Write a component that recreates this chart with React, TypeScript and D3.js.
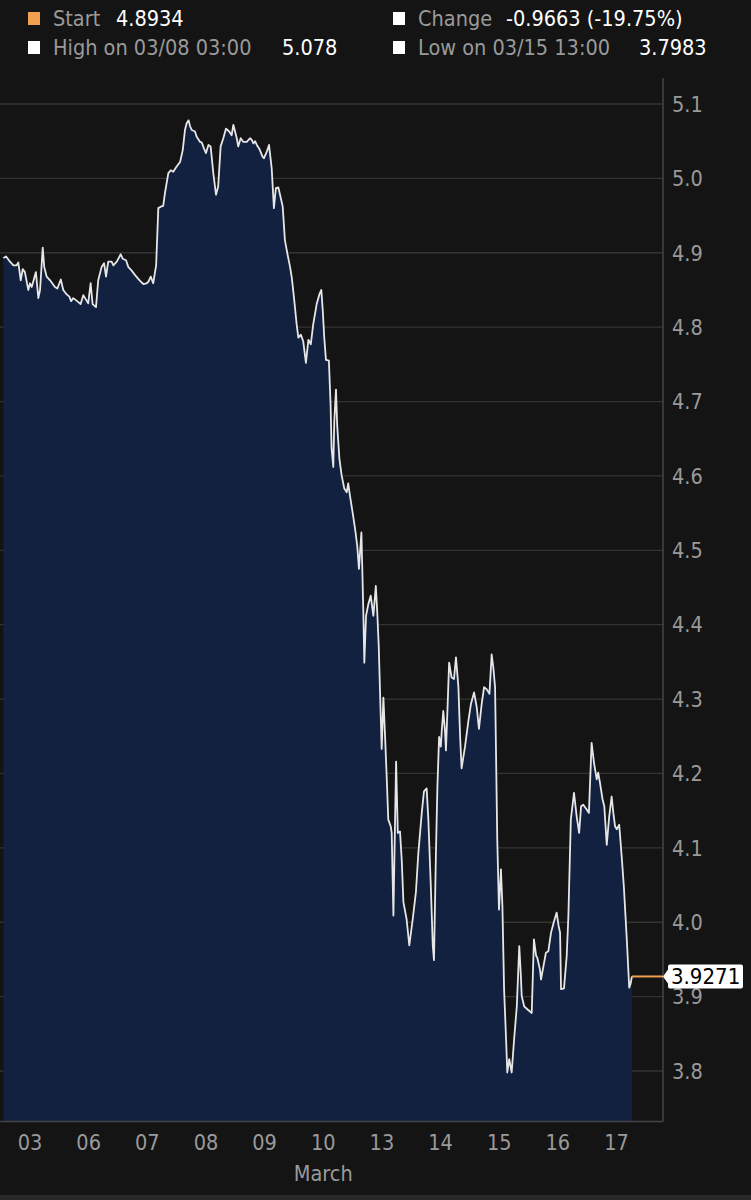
import React from "react";
import * as d3 from "d3";

// Trading-hour offsets (weekends removed) from 03/03 00:00, and yield values
const hours: number[] = [
  1.1, 2.2, 3.8, 5.2, 6.5, 7.2, 8.2, 9.0, 9.9, 11.3, 12.0, 12.7, 13.3, 14.4, 15.4, 16.1, 17.2, 17.8, 18.8, 20.2,
  22.2, 23.2, 24.6, 25.6, 27.0, 28.1, 28.8, 29.7, 31.3, 32.7, 33.8, 34.9, 35.8, 36.8, 37.6, 39.0, 39.9, 41.3, 42.3, 43.1,
  44.0, 45.4, 46.1, 47.5, 49.1, 49.9, 51.3, 52.2, 53.6, 55.0, 56.3, 57.7, 58.4, 59.7, 60.4, 61.4, 62.4, 63.6, 64.5, 65.5,
  66.5, 67.2, 68.6, 69.6, 70.6, 72.0, 73.4, 74.5, 75.4, 76.1, 76.9, 77.5, 78.2, 79.5, 80.2, 81.6, 82.3, 83.2, 84.0, 85.0,
  85.9, 87.0, 88.1, 89.0, 90.0, 91.1, 92.2, 93.5, 94.5, 95.2, 95.9, 96.6, 97.2, 98.2, 99.3, 100.7, 102.0, 102.7, 103.4, 104.1,
  104.8, 105.8, 107.2, 107.7, 108.9, 109.8, 110.9, 111.8, 112.6, 113.6, 114.3, 115.4, 116.3, 117.3, 118.4, 119.1, 120.0, 121.1, 121.8, 122.8,
  123.8, 124.9, 125.9, 126.9, 127.9, 129.3, 130.4, 131.2, 131.8, 132.4, 133.1, 134.3, 135.0, 135.4, 136.1, 136.5, 137.2, 137.7, 138.6, 139.5,
  140.6, 141.6, 142.2, 142.9, 144.0, 145.0, 145.9, 146.6, 147.6, 147.9, 148.4, 148.8, 149.5, 150.4, 151.4, 152.5, 153.5, 154.1, 154.7, 155.3,
  155.9, 156.6, 157.3, 158.0, 158.6, 159.6, 160.0, 160.7, 161.8, 162.5, 163.4, 164.1, 164.8, 166.1, 167.2, 168.6, 169.9, 170.9, 172.3, 173.2,
  174.3, 175.0, 176.0, 176.8, 177.3, 178.1, 178.7, 179.4, 180.1, 180.5, 181.1, 181.8, 182.2, 182.9, 183.5, 184.5, 185.5, 186.3, 187.3, 188.0,
  188.6, 190.0, 191.4, 192.4, 193.7, 194.8, 195.7, 196.8, 197.8, 198.9, 200.0, 200.9, 201.6, 202.3, 203.2, 203.9, 204.7, 205.3, 206.0, 206.8,
  207.3, 208.1, 209.1, 210.1, 211.2, 212.2, 212.8, 213.2, 214.2, 215.5, 217.3, 218.2, 219.1, 219.6, 220.7, 221.1, 222.1, 223.1, 224.1, 225.2,
  226.4, 227.5, 228.3, 228.9, 229.3, 230.5, 231.6, 232.3, 233.3, 234.6, 235.7, 236.7, 237.5, 238.4, 239.5, 240.7, 241.8, 242.8, 243.9, 244.5,
  245.2, 246.3, 247.0, 248.0, 249.0, 250.0, 250.7, 251.4, 252.1, 253.1, 254.1, 255.0, 256.2, 257.2, 257.8, 258.3,
];

const values: number[] = [
  4.893, 4.895, 4.888, 4.883, 4.883, 4.887, 4.863, 4.878, 4.874, 4.850, 4.859, 4.854, 4.861, 4.874, 4.839, 4.850, 4.907, 4.881, 4.868, 4.863,
  4.854, 4.852, 4.864, 4.850, 4.844, 4.841, 4.835, 4.839, 4.835, 4.831, 4.843, 4.837, 4.832, 4.859, 4.831, 4.827, 4.863, 4.881, 4.886, 4.868,
  4.888, 4.888, 4.883, 4.888, 4.898, 4.892, 4.890, 4.881, 4.876, 4.870, 4.865, 4.860, 4.858, 4.859, 4.861, 4.868, 4.859, 4.883, 4.960, 4.962,
  4.963, 4.980, 5.007, 5.011, 5.009, 5.016, 5.022, 5.038, 5.065, 5.074, 5.078, 5.070, 5.065, 5.063, 5.056, 5.049, 5.048, 5.040, 5.034, 5.045,
  5.043, 5.007, 4.978, 4.989, 5.043, 5.054, 5.067, 5.063, 5.058, 5.072, 5.063, 5.054, 5.043, 5.054, 5.049, 5.049, 5.054, 5.052, 5.047, 5.050,
  5.045, 5.040, 5.029, 5.027, 5.036, 5.045, 5.013, 4.960, 4.987, 4.988, 4.978, 4.962, 4.917, 4.899, 4.881, 4.867, 4.840, 4.804, 4.786, 4.790,
  4.781, 4.752, 4.783, 4.777, 4.804, 4.831, 4.844, 4.850, 4.822, 4.786, 4.756, 4.755, 4.695, 4.637, 4.612, 4.673, 4.716, 4.668, 4.623, 4.601,
  4.583, 4.578, 4.590, 4.574, 4.551, 4.529, 4.506, 4.475, 4.524, 4.484, 4.416, 4.349, 4.412, 4.427, 4.439, 4.412, 4.452, 4.416, 4.371, 4.301,
  4.233, 4.302, 4.249, 4.191, 4.138, 4.129, 4.120, 4.009, 4.216, 4.120, 4.122, 4.084, 4.027, 4.004, 3.969, 4.004, 4.040, 4.093, 4.147, 4.176,
  4.180, 4.138, 4.049, 3.969, 3.949, 4.093, 4.182, 4.249, 4.236, 4.258, 4.284, 4.258, 4.231, 4.293, 4.349, 4.329, 4.327, 4.356, 4.316, 4.249,
  4.207, 4.236, 4.271, 4.293, 4.309, 4.289, 4.260, 4.293, 4.316, 4.313, 4.307, 4.360, 4.342, 4.316, 4.111, 4.017, 4.071, 4.022, 3.909, 3.843,
  3.798, 3.816, 3.798, 3.843, 3.887, 3.968, 3.932, 3.901, 3.887, 3.883, 3.878, 3.977, 3.955, 3.952, 3.936, 3.923, 3.941, 3.959, 3.961, 3.986,
  4.001, 4.013, 3.995, 3.986, 3.910, 3.911, 3.954, 4.008, 4.138, 4.174, 4.142, 4.120, 4.156, 4.158, 4.153, 4.147, 4.241, 4.214, 4.192, 4.201,
  4.188, 4.165, 4.156, 4.104, 4.142, 4.169, 4.147, 4.129, 4.125, 4.131, 4.089, 4.048, 3.977, 3.912, 3.918, 3.9271,
];

const dayLabels: string[] = ["03", "06", "07", "08", "09", "10", "13", "14", "15", "16", "17"];
const yTicks: number[] = [3.8, 3.9, 4.0, 4.1, 4.2, 4.3, 4.4, 4.5, 4.6, 4.7, 4.8, 4.9, 5.0, 5.1];
const monthLabel = "March";
const lastValue = 3.9271;

const headerRow1 = [
  { label: "Start", value: "4.8934", swatch: "#f0a04e" },
  { label: "Change", value: "-0.9663 (-19.75%)", swatch: "#ffffff" },
];
const headerRow2 = [
  { label: "High on 03/08 03:00", value: "5.078", swatch: "#ffffff" },
  { label: "Low on 03/15 13:00", value: "3.7983", swatch: "#ffffff" },
];

const FONT = '"DejaVu Sans Condensed", "DejaVu Sans", sans-serif';

export default function App() {
  const W = 751;
  const H = 1200;
  const plotRight = 663;
  const plotTop = 78;
  const yMin = 3.732;

  const x = d3.scaleLinear().domain([0, 24 * dayLabels.length]).range([0.7, 0.7 + 58.65 * dayLabels.length]);
  const y = d3.scaleLinear().domain([3.8, 5.1]).range([1071, 104]);
  const plotBottom = y(yMin);

  const pts = hours.map((h, i) => [h, values[i]] as [number, number]);
  const area = d3
    .area<[number, number]>()
    .x((d) => x(d[0]))
    .y0(plotBottom)
    .y1((d) => y(d[1]));
  const line = d3
    .line<[number, number]>()
    .x((d) => x(d[0]))
    .y((d) => y(d[1]));

  const lastX = x(hours[hours.length - 1]);
  const lastY = y(lastValue);
  const textGray = "#9a9a9a";

  const headerCols = [28, 393];
  const valueOffsets1 = [88, 113];
  const valueOffsets2 = [254, 246];

  return (
    <div style={{ position: "absolute", left: 0, top: 0, width: W, height: H }}>
      <svg width={W} height={H} style={{ display: "block", fontFamily: FONT }}>
        <rect x={0} y={0} width={W} height={H} fill="#141414" />
        <rect x={0} y={1195} width={W} height={5} fill="#282828" />

        {/* header legend */}
        {[headerRow1, headerRow2].map((row, r) =>
          row.map((item, c) => {
            const x0 = headerCols[c];
            const base = r === 0 ? 26 : 55;
            const vo = r === 0 ? valueOffsets1[c] : valueOffsets2[c];
            return (
              <g key={`${r}-${c}`}>
                <rect x={x0} y={base - 14} width={12} height={13} fill={item.swatch} />
                <text x={x0 + 25} y={base} fontSize={21.5} fill={textGray}>
                  {item.label}
                </text>
                <text x={x0 + vo} y={base} fontSize={21.5} fill="#ffffff">
                  {item.value}
                </text>
              </g>
            );
          })
        )}

        {/* gridlines */}
        {yTicks.map((t) => (
          <line key={t} x1={0} x2={plotRight} y1={y(t)} y2={y(t)} stroke="#333333" strokeWidth={1.3} />
        ))}

        {/* area + line */}
        <path d={area(pts) ?? ""} fill="#12213f" />
        <path d={line(pts) ?? ""} fill="none" stroke="#e6e6e6" strokeWidth={1.8} strokeLinejoin="round" />

        {/* frame */}
        <line x1={plotRight} x2={plotRight} y1={plotTop} y2={plotBottom} stroke="#444444" strokeWidth={1.5} />
        <line x1={0} x2={plotRight} y1={plotBottom} y2={plotBottom} stroke="#444444" strokeWidth={1.5} />

        {/* y tick labels */}
        {yTicks.map((t) => (
          <text key={t} x={672} y={y(t)} dy="0.36em" fontSize={21.5} fill={textGray}>
            {t.toFixed(1)}
          </text>
        ))}

        {/* x tick labels */}
        {dayLabels.map((d, i) => (
          <text key={d} x={x(24 * i + 12)} y={1150} textAnchor="middle" fontSize={21.5} fill={textGray}>
            {d}
          </text>
        ))}
        <text x={x(24 * 5 + 12)} y={1181} textAnchor="middle" fontSize={21.5} fill={textGray}>
          {monthLabel}
        </text>

        {/* last value marker */}
        <line x1={lastX} x2={plotRight} y1={lastY} y2={lastY} stroke="#f0a04e" strokeWidth={2} />
        <path
          d={`M${plotRight},${lastY} L${plotRight + 5},${lastY - 7} L${plotRight + 5},${lastY - 10} Q${plotRight + 5},${lastY - 12} ${plotRight + 7},${lastY - 12} L${741},${lastY - 12} Q${743},${lastY - 12} ${743},${lastY - 10} L${743},${lastY + 10} Q${743},${lastY + 12} ${741},${lastY + 12} L${plotRight + 7},${lastY + 12} Q${plotRight + 5},${lastY + 12} ${plotRight + 5},${lastY + 10} L${plotRight + 5},${lastY + 7} Z`}
          fill="#ffffff"
        />
        <text x={671} y={lastY} dy="0.36em" fontSize={22} fill="#000000">
          {lastValue.toFixed(4)}
        </text>
      </svg>
    </div>
  );
}
